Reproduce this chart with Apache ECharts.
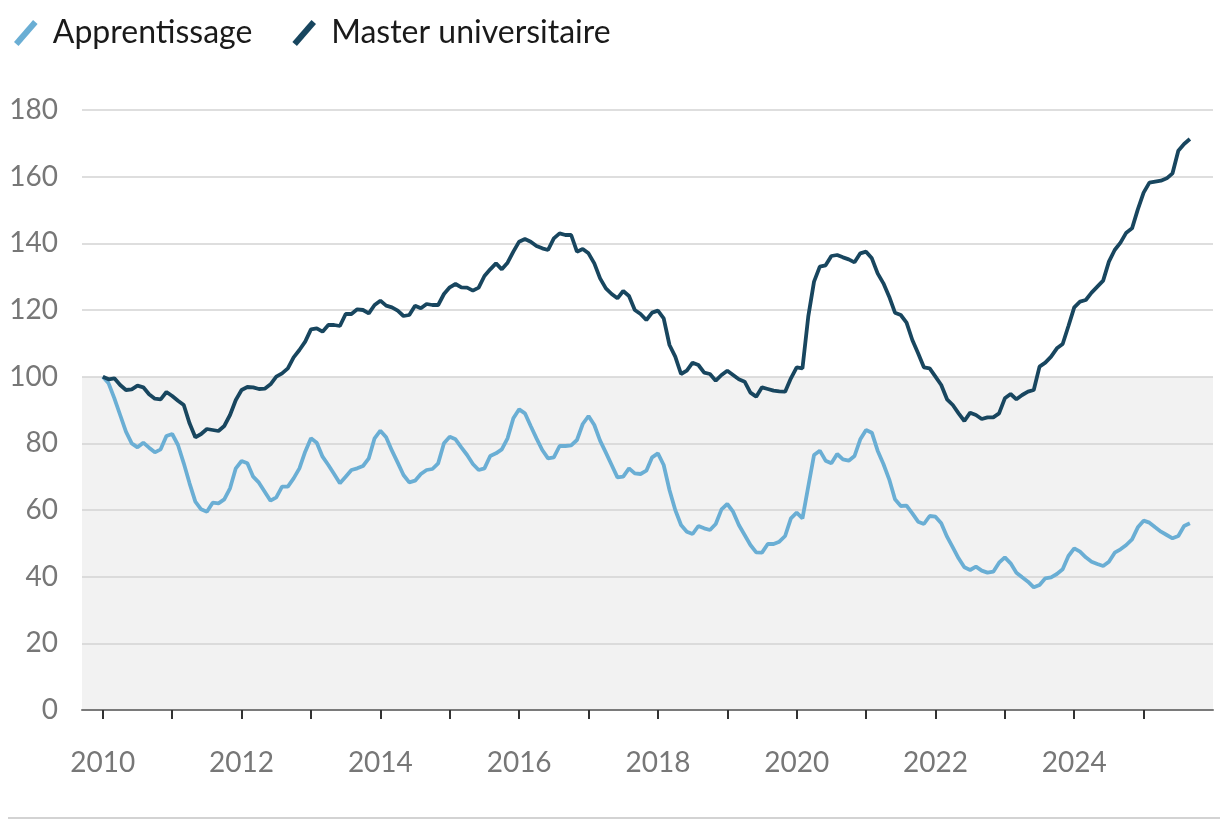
<!DOCTYPE html>
<html>
<head>
<meta charset="utf-8">
<script src="https://cdn.jsdelivr.net/npm/echarts@6/dist/echarts.min.js"></script>
<style>
html,body{margin:0;padding:0;background:#fff;}
#chart{width:1220px;height:830px;}
</style>
</head>
<body>
<div id="chart"></div>
<script>
// Monthly index values, starting January 2010 (base 100)
const startYear = 2010;
const seriesNames = ['Apprentissage', 'Master universitaire'];
const apprentissage = [
100,98,93.5,88.5,83.5,80,78.8,80.2,78.7,77.3,78.2,82.2,
82.8,79.5,74,68,62.5,60.2,59.5,62.2,62,63.2,66.5,72.5,
74.7,74,70,68.2,65.5,62.8,63.8,67,67,69.5,72.5,77.5,
81.5,80.2,76,73.5,70.8,68,70,72,72.5,73.2,75.5,81.5,
83.8,81.8,77.8,74.2,70.5,68.3,68.8,70.8,72,72.3,74,80,
82,81.2,78.8,76.5,73.8,72,72.5,76.2,77,78.2,81.5,87.5,
90.2,89,85.2,81.5,78,75.5,75.8,79.2,79.2,79.4,81,85.8,
88.2,85.5,80.8,77.2,73.5,69.8,70,72.5,71,70.8,71.8,75.8,
77,73.5,66,60,55.5,53.5,52.8,55.2,54.5,54,55.8,60.2,
61.8,59.5,55.5,52.5,49.5,47.3,47.2,49.8,49.8,50.5,52.2,57.5,
59.2,57.5,67,76.5,77.8,74.8,74,76.8,75.2,74.8,76.2,81.2,
84,83.2,77.8,73.8,69.2,63.2,61.2,61.3,59,56.5,55.8,58.2,
58,56,52,48.8,45.5,42.8,42,43,41.8,41.2,41.5,44.2,
45.8,44,41.2,39.8,38.5,36.8,37.5,39.5,39.8,40.8,42.2,46.2,
48.5,47.5,45.8,44.5,43.8,43.2,44.5,47.2,48.2,49.5,51.2,54.8,
56.8,56.2,54.8,53.5,52.5,51.5,52.2,55.2,56
];
const master = [
100,99.2,99.5,97.5,96,96.2,97.3,96.8,94.7,93.4,93.2,95.4,
94.2,92.8,91.5,86,81.8,82.8,84.3,84,83.7,85.2,88.5,93,
96,96.9,96.8,96.3,96.4,97.7,100,101,102.5,105.8,108,110.5,
114.2,114.5,113.5,115.5,115.5,115.2,118.8,118.8,120.2,120,119,121.5,
122.8,121.3,120.8,119.8,118.2,118.5,121.3,120.5,121.8,121.5,121.5,124.8,
126.8,127.8,126.8,126.7,125.8,126.7,130.2,132.2,134,132.2,134.2,137.5,
140.5,141.3,140.5,139.2,138.5,138,141.5,143,142.5,142.5,137.5,138.3,
137,134,129.5,126.5,124.8,123.5,125.7,124.2,120,118.8,117,119.2,
119.8,117.5,109.5,106,100.8,101.8,104.2,103.5,101.2,100.8,98.8,100.5,
101.8,100.5,99.2,98.5,95.2,94,96.8,96.3,95.8,95.6,95.5,99.5,
102.8,102.5,118,128.5,133,133.4,136.2,136.5,135.8,135.2,134.3,137,
137.5,135.5,131,128,124,119.2,118.5,116.2,111,107,102.8,102.5,
100,97.5,93.2,91.5,89,86.7,89.2,88.5,87.3,87.8,87.8,89,
93.5,94.8,93.2,94.5,95.5,96,103,104.2,106,108.5,109.8,115.2,
120.8,122.5,123,125.2,127,128.8,134.5,138,140.2,143.2,144.5,150.2,
155.2,158.2,158.5,158.8,159.5,161,167.8,169.8,171.3
];
const xTickYears = [2010,2011,2012,2013,2014,2015,2016,2017,2018,2019,2020,2021,2022,2023,2024,2025];
const xLabelYears = [2010,2012,2014,2016,2018,2020,2022,2024];

const colors = ['#6aaed4', '#18465f'];
const toPoints = arr => arr.map((v, i) => [startYear + i / 12, v]);

const chart = echarts.init(document.getElementById('chart'));
const slash = 'path://M0,22 L19,0 L23.5,3.9 L4.5,25.9 Z';
chart.setOption({
  animation: false,
  backgroundColor: '#ffffff',
  textStyle: { fontFamily: 'Lato' },
  legend: {
    left: 9, top: 12,
    itemWidth: 24, itemHeight: 26, itemGap: 40,
    icon: slash,
    textStyle: { fontSize: 32, color: '#1a1a1a', fontFamily: 'Lato', padding: [0, 0, 0, 10] },
    data: seriesNames.map((n, i) => ({ name: n, icon: slash, itemStyle: { color: colors[i] } }))
  },
  grid: { left: 82, right: 7, top: 110, bottom: 120, containLabel: false },
  xAxis: {
    type: 'value', min: 2009.7, max: 2026,
    axisLine: { show: true, lineStyle: { color: '#7a7a7a', width: 2 } },
    axisTick: { show: true, customValues: xTickYears, length: 9, lineStyle: { color: '#333', width: 2 } },
    axisLabel: { customValues: xLabelYears, formatter: v => String(Math.round(v)), fontSize: 28, color: '#777', margin: 39, fontFamily: 'Lato' },
    splitLine: { show: false }
  },
  yAxis: {
    type: 'value', min: 0, max: 180, interval: 20,
    axisLine: { show: false }, axisTick: { show: false },
    axisLabel: { fontSize: 28, color: '#777', margin: 24, fontFamily: 'Lato' },
    splitLine: { lineStyle: { color: '#d3d3d3', width: 1.5 } },
    splitArea: { show: true, areaStyle: { color: ['#f2f2f2','#f2f2f2','#f2f2f2','#f2f2f2','#f2f2f2','#ffffff','#ffffff','#ffffff','#ffffff'] } }
  },
  series: [
    { name: seriesNames[0], type: 'line', data: toPoints(apprentissage), showSymbol: false, symbol: 'none',
      lineStyle: { color: colors[0], width: 3.8 }, itemStyle: { color: colors[0] } },
    { name: seriesNames[1], type: 'line', data: toPoints(master), showSymbol: false, symbol: 'none',
      lineStyle: { color: colors[1], width: 3.8 }, itemStyle: { color: colors[1] } }
  ],
  graphic: [
    { type: 'line', shape: { x1: 8, y1: 818, x2: 1220, y2: 818 }, style: { stroke: '#d3d3d3', lineWidth: 2 } }
  ]
});
</script>
</body>
</html>
